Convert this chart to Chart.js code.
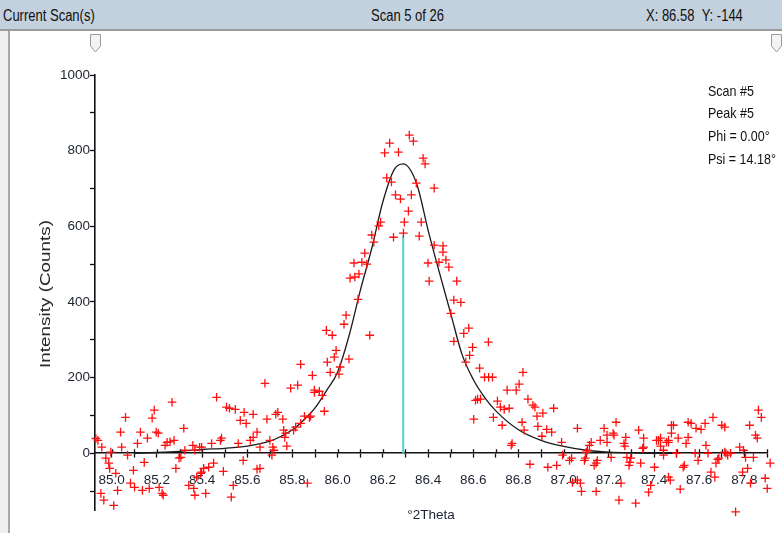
<!DOCTYPE html>
<html>
<head>
<meta charset="utf-8">
<title>Current Scan(s) - Scan 5 of 26</title>
<script src="https://cdn.jsdelivr.net/npm/chart.js@4.4.1/dist/chart.umd.min.js"></script>
<style>
  html, body { margin: 0; padding: 0; }
  body {
    width: 782px; height: 533px; position: relative; overflow: hidden;
    background: #f0f0f0;
    font-family: "Liberation Sans", Arial, sans-serif;
    color: #111;
  }
  #bar {
    position: absolute; left: 0; top: 0; width: 782px; height: 29px;
    background: #c3d0dd; border-bottom: 2px solid #9a9a9a;
  }
  #bar span {
    position: absolute; top: 6px; font-size: 13px; white-space: nowrap;
    transform: scaleY(1.28); transform-origin: 0 0;
  }
  #panel {
    position: absolute; left: 8px; top: 31px; right: 0; bottom: 0;
    background: #fff; border-left: 2px solid #a8a8a8;
  }
  .handle { position: absolute; top: 34px; }
  #chartBox { position: absolute; left: 0; top: 0; width: 782px; height: 533px; }
  #info {
    position: absolute; left: 708px; top: 80px;
    font-size: 12.5px; line-height: 19px; white-space: nowrap;
    transform: scaleY(1.2); transform-origin: 0 0;
  }
  #yTitle {
    position: absolute; left: 45px; top: 294px; white-space: nowrap;
    font-size: 14px; color: #222;
    transform: translate(-50%, -50%) rotate(-90deg) scaleX(1.35);
  }
</style>
</head>
<body>
<div id="bar">
  <span style="left:3px">Current Scan(s)</span>
  <span style="left:371px">Scan 5 of 26</span>
  <span style="left:646px">X: 86.58&nbsp;&nbsp;Y: -144</span>
</div>
<div id="panel"></div>
<svg class="handle" style="left:90px" width="11" height="19" viewBox="0 0 11 19">
  <polygon points="0.5,0.5 10.5,0.5 10.5,12 5.5,18 0.5,12" fill="#f4f4f4" stroke="#9a9a9a"/>
</svg>
<svg class="handle" style="left:771px" width="11" height="19" viewBox="0 0 11 19">
  <polygon points="0.5,0.5 10.5,0.5 10.5,12 5.5,18 0.5,12" fill="#f4f4f4" stroke="#9a9a9a"/>
</svg>
<div id="chartBox"><canvas id="scanChart"></canvas></div>
<div id="info">Scan #5<br>Peak #5<br>Phi = 0.00°<br>Psi = 14.18°</div>
<div id="yTitle">Intensity (Counts)</div>

<script>
// measured points, scan #5
const scanTheta = [
  84.930, 84.939, 84.956, 84.974, 84.991, 84.996, 85.018, 85.026, 84.952, 84.965,
  85.009, 85.039, 85.044, 85.061, 85.070, 85.096, 85.083, 85.101, 85.114, 85.127,
  85.136, 85.144, 85.158, 85.166, 85.179, 85.188, 85.197, 85.206, 85.210, 85.223,
  85.228, 85.236, 85.245, 85.267, 85.258, 85.276, 85.284, 85.298, 85.306, 85.319,
  85.324, 85.341, 85.359, 85.368, 85.368, 85.389, 85.407, 84.987, 85.376, 85.394,
  85.363,
  85.836, 85.888, 85.678, 85.792, 85.823, 85.897, 85.464, 85.508, 85.521, 85.547,
  85.586, 85.626, 85.569, 85.595, 85.735, 85.726, 85.687, 85.757, 85.853, 85.880,
  85.836, 85.761, 85.814, 85.805, 85.643, 85.626, 85.613, 85.770, 85.766, 85.486,
  85.481, 85.560, 85.700, 85.713, 85.442, 85.398, 85.775, 85.656, 85.718, 85.709,
  85.582, 85.494, 85.451, 85.429, 85.398, 85.656, 85.643, 85.538, 85.529, 85.416,
  85.866,
  86.190, 86.182, 86.295, 86.370, 86.291, 86.247, 86.361, 86.151, 86.160, 86.427,
  86.466, 86.466, 86.448, 86.479, 86.492, 86.400, 86.405, 86.527, 86.120, 86.107,
  86.072, 86.129, 86.094, 86.076, 86.055, 86.090, 86.037, 86.028, 85.950, 85.976,
  86.142, 86.514, 86.545, 86.501, 86.580, 86.558, 86.514, 86.597, 86.584, 86.567,
  85.993, 85.985, 85.954, 86.050, 86.011, 85.967, 86.006, 85.897, 85.919, 85.932,
  85.941, 85.875, 86.602, 86.610,
  86.317, 86.335, 86.230, 86.208, 86.269, 86.378, 86.387, 86.217, 86.238, 86.348,
  86.427, 86.256, 86.278, 86.326, 86.313,
  86.667, 86.628, 86.820, 86.650, 86.668, 86.685, 86.803, 86.750, 86.790, 86.619,
  86.632, 86.707, 86.842, 86.864, 86.873, 86.956, 86.759, 86.737, 86.720, 86.908,
  86.882, 86.689, 86.816, 86.886, 86.728, 86.825, 86.925, 86.947, 86.904, 86.772,
  86.768, 86.991, 86.995, 87.026, 86.851, 86.930, 86.969,
  87.035, 87.039, 87.074, 87.079, 87.144, 87.092, 87.105, 87.122, 87.144, 87.162,
  87.192, 87.192, 87.223, 87.210, 87.245, 87.254, 87.271, 87.280, 87.293, 87.319,
  87.341, 87.354, 87.376, 87.385, 87.402, 87.420, 87.429, 87.442, 87.464, 87.472,
  87.499, 87.516, 87.534, 87.582, 87.595, 87.630, 87.639, 87.669, 87.674, 87.687,
  87.718, 87.739, 87.761, 87.779, 87.796, 87.805, 87.827, 87.840, 87.857, 87.892,
  87.901, 87.914,
  87.061, 87.179, 87.232, 87.219, 87.114, 87.332, 87.275, 87.267, 87.354, 87.411,
  87.429, 87.455, 87.477, 87.350, 87.442, 87.100, 87.096, 87.149, 87.135, 87.297,
  87.289, 87.464, 87.061,
  87.661, 87.551, 87.564, 87.486, 87.626, 87.586, 87.608, 87.700, 87.713, 87.862,
  87.875, 87.823, 87.477, 87.507, 87.551, 87.464, 87.542, 87.849, 87.713, 87.726,
  87.682, 87.529, 87.814, 87.652, 87.792
];
const scanCounts = [
  39, 34, 16, -13, -40, 3, -53, -98, -106, -124,
  -138, 56, 16, 95, -5, -45, -79, -90, 26, 56,
  -98, -24, 40, -93, 93, 114, 56, 53, -90, -106,
  -111, 21, 29, 135, 30, 34, -40, -13, -11, 66,
  8, -85, 21, -111, 8, 16, -40, -26, -63, -53,
  -93,
  235, 206, 185, 172, 180, 161, 148, 122, 119, 116,
  108, 103, 87, 79, 108, 103, 90, 90, 98, 98,
  79, 61, 69, 61, 56, 42, 34, 53, 42, 40,
  34, 26, 34, 16, 26, 16, 19, 16, 8, -5,
  -19, -48, -26, -37, -50, -40, -42, -85, -116, -106,
  -79,
  611, 601, 611, 611, 582, 571, 574, 577, 558, 550,
  548, 532, 505, 511, 492, 503, 455, 455, 529, 505,
  503, 500, 474, 466, 463, 407, 365, 341, 325, 312,
  312, 405, 399, 370, 331, 317, 296, 280, 259, 241,
  272, 254, 241, 249, 228, 214, 209, 167, 164, 153,
  111, 95, 90, 140,
  841, 825, 820, 794, 796, 780, 765, 728, 717, 714,
  701, 683, 672, 683, 640,
  294, 225, 214, 201, 201, 201, 183, 167, 167, 143,
  143, 138, 143, 127, 122, 119, 119, 116, 122, 106,
  98, 95, 82, 71, 74, 61, 63, 56, 45, 26,
  21, 29, -5, -19, -29, -37, -32,
  -13, -77, -79, -101, -101, -19, 8, 29, -26, 34,
  29, 48, 48, -11, -124, -79, 19, -11, -24, -132,
  -26, 16, -103, -85, -37, 34, 19, -5, 34, -71,
  0, -95, -32, 0, -19, 21, 0, -63, -26, -13,
  0, 0, -155, 16, 8, -11, -79, -11, 40, -66,
  -93, -26,
  66, 66, 82, 53, 21, 61, 42, 26, 40, 34,
  40, 29, 74, 13, 8, 3, -13, -19, -32, -13,
  -32, -63, -71,
  95, 82, 79, 74, 79, 66, 63, 74, 69, 114,
  95, 74, 53, 40, 42, 29, 26, 48, 3, -5,
  -16, -37, -40, -50, -50
];

// fitted profile
const fitTheta = [
  85.10, 85.20, 85.30, 85.40, 85.50, 85.60, 85.70, 85.75, 85.80, 85.85,
  85.90, 85.95, 86.00, 86.05, 86.10, 86.15, 86.20, 86.25, 86.29, 86.35,
  86.40, 86.45, 86.50, 86.55, 86.60, 86.65, 86.70, 86.80, 86.90, 87.00,
  87.10, 87.20, 87.30, 87.40, 87.50
];
const fitCounts = [
  0, 2, 5, 10, 13, 19, 32, 45, 62, 88,
  120, 165, 215, 310, 430, 540, 665, 750, 765, 712,
  590, 478, 370, 262, 195, 148, 112, 62, 34, 18,
  8, 3, 1, 0, 0
];

// peak position marker
const peakTheta = [86.29, 86.29];
const peakCounts = [0, 575];

const xTicks = [
  85.0, 85.1, 85.2, 85.3, 85.4, 85.5, 85.6, 85.7, 85.8, 85.9,
  86.0, 86.1, 86.2, 86.3, 86.4, 86.5, 86.6, 86.7, 86.8, 86.9,
  87.0, 87.1, 87.2, 87.3, 87.4, 87.5, 87.6, 87.7, 87.8, 87.9
];
const xTickLabels = ['85.0', '85.2', '85.4', '85.6', '85.8', '86.0', '86.2',
  '86.4', '86.6', '86.8', '87.0', '87.2', '87.4', '87.6', '87.8'];
const yTicks = [-100, 0, 100, 200, 300, 400, 500, 600, 700, 800, 900, 1000];
const yTickLabels = ['0', '200', '400', '600', '800', '1000'];

const toPoints = (xs, ys) => xs.map((x, i) => ({ x: x, y: ys[i] }));

const labelFont = { family: '"Liberation Sans", Arial, sans-serif', size: 13.5 };

// short tick marks above the x axis line
const upperTicks = {
  id: 'upperTicks',
  beforeDatasetsDraw(chart) {
    const { ctx, scales: { x, y } } = chart;
    const y0 = y.getPixelForValue(0);
    ctx.save();
    ctx.strokeStyle = '#111';
    ctx.lineWidth = 1.3;
    ctx.beginPath();
    xTicks.forEach(v => {
      const px = Math.round(x.getPixelForValue(v)) + 0.5;
      ctx.moveTo(px, y0 - 4);
      ctx.lineTo(px, y0);
    });
    ctx.stroke();
    ctx.restore();
  }
};

new Chart(document.getElementById('scanChart'), {
  type: 'scatter',
  data: {
    datasets: [
      {
        label: 'Scan #5',
        data: toPoints(scanTheta, scanCounts),
        pointStyle: 'cross',
        pointRadius: 4.3,
        pointBorderWidth: 1.3,
        borderColor: '#ff1010',
        backgroundColor: '#ff1010',
        clip: false,
        order: 0
      },
      {
        type: 'line',
        label: 'Fit',
        data: toPoints(fitTheta, fitCounts),
        borderColor: '#1a1a1a',
        borderWidth: 1.3,
        pointRadius: 0,
        tension: 0.35,
        cubicInterpolationMode: 'monotone',
        order: 1
      },
      {
        type: 'line',
        label: 'Peak',
        data: toPoints(peakTheta, peakCounts),
        borderColor: '#4fd4d4',
        borderWidth: 2,
        pointRadius: 0,
        order: 2
      }
    ]
  },
  options: {
    responsive: true,
    maintainAspectRatio: false,
    animation: false,
    events: [],
    layout: { padding: { left: 0, top: 75, right: 7, bottom: 23 } },
    plugins: {
      legend: { display: false },
      tooltip: { enabled: false }
    },
    scales: {
      x: {
        type: 'linear',
        min: 84.926,
        max: 87.9,
        position: { y: 0 },
        afterBuildTicks: scale => { scale.ticks = xTicks.map(v => ({ value: v })); },
        ticks: {
          autoSkip: false,
          maxRotation: 0,
          padding: 15,
          color: '#1c2330',
          font: labelFont,
          callback: v => {
            const s = Number(v).toFixed(1);
            return xTickLabels.includes(s) ? s : '';
          }
        },
        grid: { drawOnChartArea: false, tickLength: 4, tickColor: '#111', tickWidth: 1.3 },
        border: { color: '#111', width: 1.6 },
        title: {
          display: true,
          text: '°2Theta',
          color: '#1c2330',
          font: { family: labelFont.family, size: 13.5 },
          padding: { top: 4, bottom: 0 }
        }
      },
      y: {
        type: 'linear',
        min: -150,
        max: 1000,
        afterBuildTicks: scale => { scale.ticks = yTicks.map(v => ({ value: v })); },
        afterFit: scale => { scale.width = 95; },
        ticks: {
          autoSkip: false,
          padding: 0,
          color: '#1c2330',
          font: labelFont,
          callback: v => (yTickLabels.includes(String(v)) ? String(v) : '')
        },
        grid: { drawOnChartArea: false, tickLength: 5, tickColor: '#111', tickWidth: 1.3 },
        border: { color: '#111', width: 1.6 }
      }
    }
  },
  plugins: [upperTicks]
});
</script>
</body>
</html>
